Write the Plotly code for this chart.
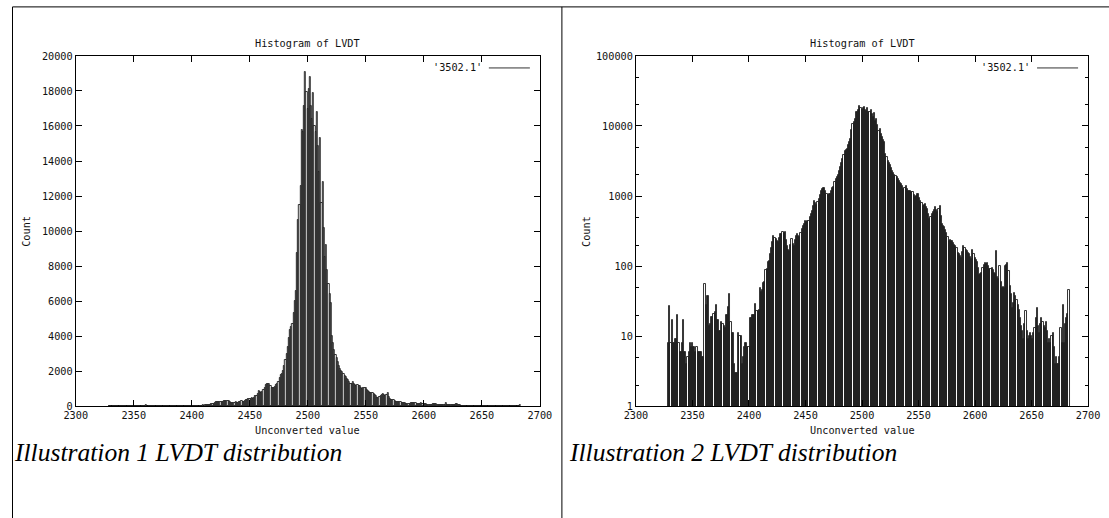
import plotly.graph_objects as go

# Histogram of raw LVDT readings: one count per unconverted ADC value
first_value = 2329
counts = [
    8, 27, 8, 17, 8, 8, 9, 9, 20, 8, 6, 6, 8, 17, 6, 6, 4, 5, 6, 8,            # 2329-2348
    7, 8, 7, 7, 6, 7, 6, 6, 6, 6, 5, 5, 56, 28, 37, 37, 14, 15, 19, 19,          # 2349-2368
    21, 22, 28, 17, 17, 12, 12, 16, 15, 14, 13, 20, 20, 26, 40, 16, 11, 11, 4, 3,  # 2369-2388
    3, 3, 11, 10, 10, 4, 5, 7, 8, 8, 7, 7, 18, 18, 20, 20, 20, 29, 23, 23,       # 2389-2408
    24, 48, 43, 45, 58, 60, 88, 90, 115, 117, 150, 180, 220, 266, 250, 243, 230, 220, 250, 285,  # 2409-2428
    290, 305, 300, 305, 240, 193, 170, 163, 200, 243, 210, 193, 240, 270, 285, 270, 260, 300, 340, 375,  # 2429-2448
    400, 440, 430, 445, 440, 500, 560, 610, 720, 860, 800, 750, 830, 910, 1050, 1200, 1270, 1290, 1300, 1180,  # 2449-2468
    1070, 1050, 1070, 1080, 1200, 1300, 1360, 1600, 1760, 1850, 2000, 2300, 2630, 3000, 3400, 3900, 4340, 4500, 4700, 5300,  # 2469-2488
    6000, 6600, 8770, 10660, 11500, 12600, 15780, 15640, 17150, 19080, 17940, 16960, 18100, 18800, 17150, 16390, 17900, 16000, 15640, 16800,  # 2489-2508
    14840, 13350, 15300, 11630, 12800, 10200, 8540, 9200, 7800, 7000, 6400, 5900, 4000, 3600, 3220, 2950, 2740, 2500, 2320, 2150,  # 2509-2528
    2000, 1930, 1860, 1750, 1660, 1560, 1480, 1380, 1270, 1300, 1390, 1280, 1200, 1180, 1200, 1150, 1130, 1050, 960, 1020,  # 2529-2548
    1070, 1070, 950, 860, 800, 730, 750, 770, 700, 650, 560, 470, 500, 550, 600, 640, 700, 640, 590, 650,  # 2549-2568
    730, 520, 400, 380, 360, 330, 300, 260, 230, 235, 225, 230, 215, 200, 195, 180, 155, 150, 140, 130,  # 2569-2588
    160, 195, 180, 170, 165, 155, 148, 135, 128, 170, 150, 130, 122, 115, 95, 76, 78, 80, 95, 105,  # 2589-2608
    112, 108, 110, 100, 90, 92, 95, 88, 80, 78, 165, 70, 66, 100, 60, 49, 50, 49, 100, 105,  # 2609-2628
    110, 85, 52, 40, 25, 30, 41, 38, 33, 28, 24, 18, 14, 12, 9, 15, 23, 12, 9, 10,  # 2629-2648
    11, 10, 9, 11, 13, 18, 25, 14, 11, 15, 18, 16, 14, 13, 16, 12, 8, 9, 8, 10,  # 2649-2668
    11, 7, 4, 5, 4, 4, 5, 13, 8, 28, 8, 15, 18, 21, 45,                          # 2669-2683
]
values = list(range(first_value, first_value + len(counts)))

series_name = "'3502.1'"
chart_title = "Histogram of LVDT"
x_title = "Unconverted value"
y_title = "Count"
captions = ["Illustration 1 LVDT distribution", "Illustration 2 LVDT distribution"]

x_ticks = list(range(2300, 2701, 50))
lin_ticks = list(range(0, 20001, 2000))
log_ticks = [1, 10, 100, 1000, 10000, 100000]
log_minor = [m * 10 ** d for d in range(5) for m in (2, 5)]

W, H = 1109, 518
# layout is written in sheet pixels; the sheet is drawn slightly inset
# and scaled inside the figure
K, OX, OY = 0.978, 12.3, 5.1
MONO = "DejaVu Sans Mono"
INK = "#111111"


def px(x):
    """sheet pixel column -> paper x"""
    return (x - OX) / K / W


def py(y):
    """sheet pixel row -> paper y"""
    return 1 - (y - OY) / K / H


def fs(size):
    return size / K


# frames of the two panels, in sheet pixels (left, right, top, bottom)
panels = [(76, 540, 56, 406), (636, 1088, 56, 406)]

fig = go.Figure()
for i in range(2):
    fig.add_trace(go.Bar(
        x=values, y=counts, width=1.0,
        marker=dict(color="white", line=dict(color="black", width=0.8)),
        xaxis="x" if i == 0 else "x2", yaxis="y" if i == 0 else "y2",
        showlegend=False, hoverinfo="x+y",
    ))

common_x = dict(
    range=[2300, 2700], tickvals=x_ticks, ticks="inside", ticklen=6,
    tickcolor="black", showline=True, linecolor="black", linewidth=1,
    mirror="ticks", showgrid=False, zeroline=False,
    tickfont=dict(family=MONO, size=fs(10), color=INK),
)
common_y = dict(
    ticks="inside", ticklen=6, tickcolor="black", showline=True,
    linecolor="black", linewidth=1, mirror="ticks", showgrid=False,
    zeroline=False, tickfont=dict(family=MONO, size=fs(10), color=INK),
)

l, r, t, b = panels[0]
fig.update_layout(
    xaxis=dict(domain=[px(l), px(r)], anchor="y", **common_x),
    yaxis=dict(domain=[py(b), py(t)], anchor="x", range=[0, 20000],
               tickvals=lin_ticks, ticktext=[str(v) for v in lin_ticks], **common_y),
)
l, r, t, b = panels[1]
fig.update_layout(
    xaxis2=dict(domain=[px(l), px(r)], anchor="y2", **common_x),
    yaxis2=dict(domain=[py(b), py(t)], anchor="x2", type="log", range=[0, 5],
                tickvals=log_ticks, ticktext=[str(v) for v in log_ticks],
                minor=dict(tickvals=log_minor, ticks="inside", ticklen=3,
                           tickcolor="black"),
                **common_y),
)


def label(text, x, y, size=10, family=MONO, xanchor="center", **extra):
    return dict(text=text, x=px(x), y=py(y), xref="paper", yref="paper",
                xanchor=xanchor, yanchor="middle", showarrow=False,
                font=dict(family=family, size=fs(size), color=INK), **extra)


annotations = []
shapes = []
for i, (l, r, t, b) in enumerate(panels):
    cx = (l + r) / 2
    annotations.append(label(chart_title, cx, 44))
    annotations.append(label(x_title, cx, 430))
    annotations.append(label(y_title, l - 50, (t + b) / 2, textangle=-90))
    # key: series name followed by its line sample
    annotations.append(label(series_name, r - 56, 68, xanchor="right"))
    shapes.append(dict(type="line", xref="paper", yref="paper",
                       x0=px(r - 51), x1=px(r - 10), y0=py(68), y1=py(68),
                       line=dict(color="#333333", width=1)))
    cap = label(captions[i], 12 if i == 0 else 567, 452, size=25,
                family="Liberation Serif", xanchor="left")
    cap["font"].update(color="black", style="italic")
    annotations.append(cap)

# table cell borders around the two panels
left_edge = max(7, OX + 0.5)
for x0, y0, x1, y1 in [(left_edge, 7, W + 20, 7), (left_edge, 7, left_edge, H + 20),
                       (562, 7, 562, H + 20)]:
    shapes.append(dict(type="line", xref="paper", yref="paper",
                       x0=px(x0), y0=py(y0), x1=px(x1), y1=py(y1),
                       line=dict(color="black", width=1)))

fig.update_layout(
    width=W, height=H, margin=dict(l=0, r=0, t=0, b=0),
    paper_bgcolor="white", plot_bgcolor="white",
    bargap=0, annotations=annotations, shapes=shapes,
)

fig.write_html("out.html")
